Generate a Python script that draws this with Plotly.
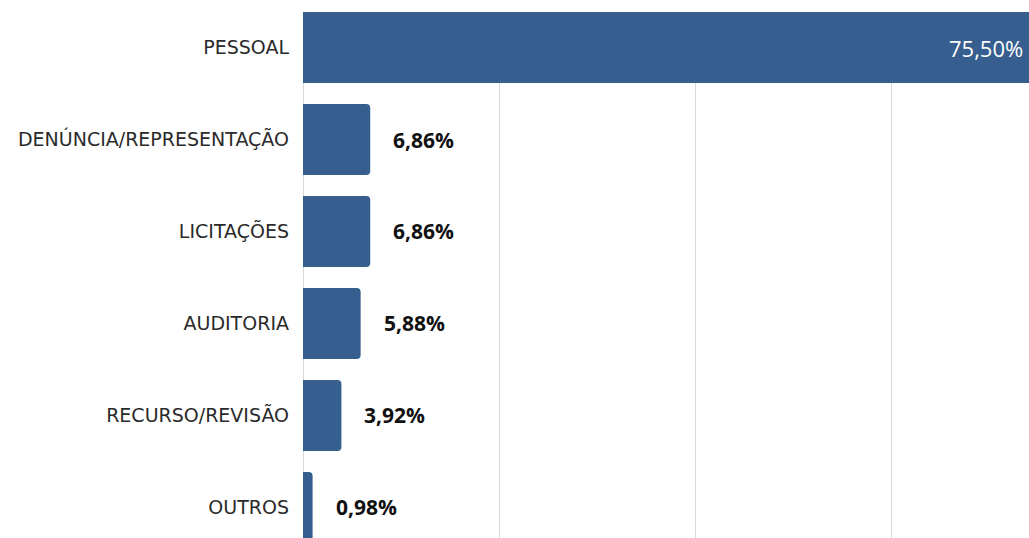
import plotly.graph_objects as go

# Share of processes by subject (%)
categories = ["PESSOAL", "DENÚNCIA/REPRESENTAÇÃO", "LICITAÇÕES", "AUDITORIA", "RECURSO/REVISÃO", "OUTROS"]
values = [75.50, 6.86, 6.86, 5.88, 3.92, 0.98]
labels = ["75,50%", "6,86%", "6,86%", "5,88%", "3,92%", "0,98%"]

BAR_COLOR = "#365E8E"
LABEL_FONT = "DejaVu Sans"
VALUE_FONT = "Open Sans"

fig = go.Figure()

fig.add_trace(go.Bar(
    x=values,
    y=categories,
    orientation="h",
    marker=dict(color=BAR_COLOR, line=dict(width=0)),
    hoverinfo="skip",
    showlegend=False,
))

# value labels: the big bar gets its label inside (white), the rest outside (bold black)
x_max = 74.08
for cat, val, lab in zip(categories, values, labels):
    if val > x_max * 0.5:
        fig.add_annotation(
            x=x_max, y=cat, text=lab, showarrow=False,
            xanchor="right", xshift=-4,
            font=dict(family=VALUE_FONT, size=22, color="white"),
        )
    else:
        fig.add_annotation(
            x=val, y=cat, text=lab, showarrow=False,
            xanchor="left", xshift=21,
            font=dict(family=VALUE_FONT, size=21, color="#111111", weight="bold"),
        )

fig.update_layout(
    width=1029,
    height=538,
    margin=dict(l=303, r=0, t=12, b=0),
    paper_bgcolor="white",
    plot_bgcolor="white",
    bargap=0.228,
    barcornerradius=4,
    font=dict(family=LABEL_FONT, size=19, color="#2a2a2a"),
    xaxis=dict(
        range=[0, x_max],
        dtick=20,
        showgrid=True,
        gridcolor="#D9D9D9",
        gridwidth=1,
        zeroline=True,
        zerolinecolor="#D9D9D9",
        zerolinewidth=1,
        showticklabels=False,
        fixedrange=True,
    ),
    yaxis=dict(
        range=[5.332, -0.386],
        showgrid=False,
        zeroline=False,
        ticks="",
        ticklabelstandoff=13,
        tickfont=dict(family=LABEL_FONT, size=19, color="#2a2a2a"),
        fixedrange=True,
    ),
)

fig.write_html(
    "out.html",
    config={"displayModeBar": False},
    post_script="document.body.style.margin='0';document.body.style.overflow='hidden';",
)
